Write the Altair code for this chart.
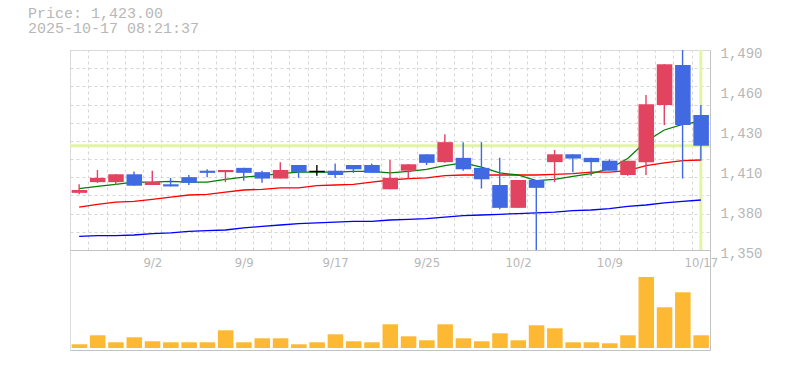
import json
import numpy as np
import pandas as pd
import altair as alt

# ---------------- data ----------------
dates = ["8/27", "8/28", "8/29", "9/1", "9/2", "9/3", "9/4", "9/5", "9/8", "9/9",
         "9/10", "9/11", "9/12", "9/16", "9/17", "9/18", "9/19", "9/22", "9/24", "9/25",
         "9/26", "9/29", "9/30", "10/1", "10/2", "10/3", "10/6", "10/7", "10/8", "10/9",
         "10/10", "10/14", "10/15", "10/16", "10/17"]
opens = [1390, 1397.5, 1397.5, 1403, 1395.5, 1396, 1401, 1405.5, 1404.5, 1407.5,
         1404.5, 1400, 1409.5, 1405, 1405.5, 1409.5, 1409.5, 1392.5, 1405.5, 1417,
         1411.5, 1414.5, 1407.5, 1395.5, 1379.5, 1399, 1411.5, 1417, 1414.5, 1412.5,
         1402.5, 1411.5, 1451.5, 1479.5, 1444.5]
highs = [1396, 1406, 1403, 1405, 1405.5, 1400.5, 1402.5, 1406.5, 1406, 1407.5,
         1405.5, 1411.5, 1409.5, 1409.5, 1410.5, 1409.5, 1410.5, 1413, 1410, 1417,
         1431, 1425.5, 1425.5, 1414.5, 1399, 1399, 1420, 1417, 1414.5, 1413.5,
         1412.5, 1458.5, 1480, 1490, 1451.5]
lows = [1389, 1397, 1395.5, 1395, 1395.5, 1394.5, 1395.5, 1401, 1397.5, 1398.5,
        1397, 1400, 1400.5, 1402, 1400.5, 1404, 1404, 1392.5, 1399.5, 1409.5,
        1411, 1405.5, 1393, 1378.5, 1379.5, 1350, 1397.5, 1404.5, 1402, 1405.5,
        1402, 1402.5, 1437.5, 1400, 1412.5]
closes = [1392, 1400.5, 1403, 1395, 1397.5, 1394.5, 1397, 1404, 1406, 1404,
          1400, 1406, 1404.5, 1405, 1402.5, 1406.5, 1404, 1400.5, 1410, 1411,
          1425.5, 1406.5, 1399.5, 1379.5, 1399, 1393.5, 1417, 1414, 1411.5, 1405.5,
          1412.5, 1452, 1480, 1437.5, 1423]
ma5 = [1393, 1394.5, 1396, 1397.5, 1397.5, 1398, 1397.5, 1397.5, 1399.5, 1401,
       1402, 1403.5, 1404.5, 1404.5, 1404.5, 1405, 1405, 1404, 1405, 1406.5,
       1409, 1411, 1408, 1404, 1402.5, 1398.5, 1399.5, 1401.5, 1403.5, 1407,
       1414, 1426, 1434, 1438, 1440]
ma25 = [1380, 1382, 1383.5, 1384, 1385.5, 1387, 1388.5, 1389, 1390.5, 1392,
        1392.5, 1393.5, 1393.5, 1395, 1395.5, 1396, 1397.5, 1399, 1400, 1400.5,
        1402, 1402.5, 1402.5, 1402.5, 1402.5, 1402.5, 1403, 1403.5, 1404.5, 1404.5,
        1405.5, 1409, 1411, 1412.5, 1413]
ma75 = [1359.5, 1360, 1360, 1360.5, 1361.5, 1362, 1363, 1363.5, 1364, 1365.5,
        1366.5, 1367.5, 1368.5, 1369, 1369.5, 1370, 1370, 1371, 1371.5, 1372,
        1373, 1374, 1374.5, 1375, 1375.5, 1376, 1376.5, 1377.5, 1378, 1379,
        1380.5, 1381.5, 1383, 1384, 1385]
volumes = [3700, 12700, 5700, 10700, 6700, 5700, 5700, 5700, 17700, 5700,
           9700, 9700, 3700, 5700, 13700, 6700, 5700, 23700, 11700, 7700,
           23700, 9700, 6700, 14700, 7700, 22700, 19700, 5700, 5700, 4700,
           12700, 71000, 40700, 55700, 12700]

title_lines = ["Price: 1,423.00", "2025-10-17 08:21:37"]
y_tick_values = [1350, 1378, 1406, 1434, 1462, 1490]
y_tick_labels = ["1,350", "1,380", "1,410", "1,430", "1,460", "1,490"]
x_label_index = [4, 9, 14, 19, 24, 29, 34]
x_label_text = ["9/2", "9/9", "9/17", "9/25", "10/2", "10/9", "10/17"]
price_domain = [1350, 1490]
volume_domain = [-2000, 98000]

# ---------------- styling ----------------
W, H = 640, 300
PRICE_H = 200
MONO = "Liberation Mono"
NARROW = "Liberation Sans Narrow, DejaVu Sans Condensed, Liberation Mono"
TXT = "#b7b7b7"
GRID = "#d6d6d6"
BORDER = "#c3c3c3"
UP = "#e2435f"
DOWN = "#4169e1"
VOLC = "#fdb834"
CUR = "#e2f5a6"

n = len(dates)
idx = list(range(n))
df = pd.DataFrame({
    "idx": idx, "date": dates, "open": opens, "high": highs, "low": lows,
    "close": closes, "ma5": ma5, "ma25": ma25, "ma75": ma75, "volume": volumes,
})
df["dir"] = np.where(df["close"] > df["open"], "up",
                     np.where(df["close"] < df["open"], "down", "flat"))

x_grid_values = [i - 0.5 for i in range(n + 1)]
y_grid_values = [price_domain[0] + k * (price_domain[1] - price_domain[0]) / 11 for k in range(12)]

xs = alt.Scale(domain=[-0.5, n - 0.5], range=[0, W], nice=False, zero=False)
ps = alt.Scale(domain=price_domain, range=[PRICE_H, 0], nice=False, zero=False)
vs = alt.Scale(domain=volume_domain, range=[H, PRICE_H], nice=False, zero=False)
cs = alt.Scale(domain=["up", "down", "flat"], range=[UP, DOWN, "#000000"])

y_label_expr = "%s[indexof(%s, datum.value)]" % (json.dumps(y_tick_labels), json.dumps(y_tick_values))
x_label_expr = "%s[indexof(%s, datum.value)]" % (json.dumps(x_label_text), json.dumps(x_label_index))

grid = alt.Chart(df).mark_point(opacity=0).encode(
    x=alt.X("idx:Q", scale=xs, title=None,
            axis=alt.Axis(orient="top", values=x_grid_values, grid=True, gridDash=[3, 3],
                          gridColor=GRID, gridWidth=1, labels=False, ticks=False, domain=False)),
    y=alt.Y("close:Q", scale=ps, title=None,
            axis=alt.Axis(orient="left", values=y_grid_values, grid=True, gridDash=[3, 3],
                          gridColor=GRID, gridWidth=1, labels=False, ticks=False, domain=False)),
)

cur = pd.DataFrame({"idx": [idx[-1]], "price": [closes[-1]],
                    "top": [price_domain[1]], "bottom": [price_domain[0]]})
hline = alt.Chart(cur).mark_rule(color=CUR, strokeWidth=3).encode(
    y=alt.Y("price:Q", scale=ps, axis=None))
vline = alt.Chart(cur).mark_rule(color=CUR, strokeWidth=3).encode(
    x=alt.X("idx:Q", scale=xs, axis=None),
    y=alt.Y("top:Q", scale=ps, axis=None), y2="bottom:Q")


def ma_line(field, color):
    return alt.Chart(df).mark_line(color=color, strokeWidth=1.3).encode(
        x=alt.X("idx:Q", scale=xs, axis=None),
        y=alt.Y(f"{field}:Q", scale=ps, axis=None))


vol = alt.Chart(df).transform_calculate(
    x0="datum.idx - 0.41", x1="datum.idx + 0.44"
).mark_bar(color=VOLC).encode(
    x=alt.X("x0:Q", scale=xs, title=None,
            axis=alt.Axis(orient="bottom", labels=False, ticks=False, grid=False,
                          domain=True, domainColor=BORDER, domainWidth=1)),
    x2="x1:Q",
    y=alt.Y("volume:Q", scale=vs, title=None,
            axis=alt.Axis(orient="right", labels=False, ticks=False, grid=False,
                          domain=True, domainColor=BORDER, domainWidth=1)),
    y2=alt.datum(0),
)

wicks = alt.Chart(df).mark_rule(strokeWidth=1.4).encode(
    x=alt.X("idx:Q", scale=xs, axis=None),
    y=alt.Y("low:Q", scale=ps, axis=None),
    y2="high:Q",
    color=alt.Color("dir:N", scale=cs, legend=None),
)

bodies = alt.Chart(df).transform_calculate(
    x0="datum.idx - 0.41", x1="datum.idx + 0.44"
).mark_bar(strokeWidth=1.5).encode(
    x=alt.X("x0:Q", scale=xs, title=None,
            axis=alt.Axis(orient="bottom", offset=-(H - PRICE_H), values=x_label_index,
                          labelExpr=x_label_expr, labelFont=NARROW, labelFontSize=13,
                          labelColor=TXT, labelPadding=6, labelFlush=False,
                          labelOverlap=False, ticks=False, grid=False,
                          domain=True, domainColor=BORDER, domainWidth=1)),
    x2="x1:Q",
    y=alt.Y("open:Q", scale=ps, title=None,
            axis=alt.Axis(orient="right", values=y_tick_values, labelExpr=y_label_expr,
                          labelFont=MONO, labelFontSize=14, labelColor=TXT,
                          labelPadding=10, labelOffset=3, labelBaseline="middle",
                          labelOverlap=False, labelFlush=False, ticks=False, grid=False,
                          domain=True, domainColor=BORDER, domainWidth=1)),
    y2="close:Q",
    color=alt.Color("dir:N", scale=cs, legend=None),
    stroke=alt.condition("datum.dir == 'flat'", alt.value("#000000"), alt.value("transparent")),
)

chart = alt.layer(
    grid, hline, vline,
    ma_line("ma75", "#0000ff"), ma_line("ma25", "#ff0000"), ma_line("ma5", "#008000"),
    vol, wicks, bodies,
).resolve_scale(
    x="independent", y="independent", color="independent"
).resolve_axis(
    x="independent", y="independent"
).properties(
    width=W, height=H,
    padding={"left": 70, "top": 50, "right": 75, "bottom": 20},
    autosize=alt.AutoSizeParams(type="none"),
    title=alt.TitleParams(text=title_lines, anchor="start", orient="top", frame="group",
                          dx=-42, offset=10, font=MONO, fontSize=15, fontWeight="normal",
                          color=TXT, lineHeight=15.5),
).configure_view(stroke=None).configure(background="#ffffff")

chart.save("out.html", embed_options={"renderer": "svg", "actions": False})
